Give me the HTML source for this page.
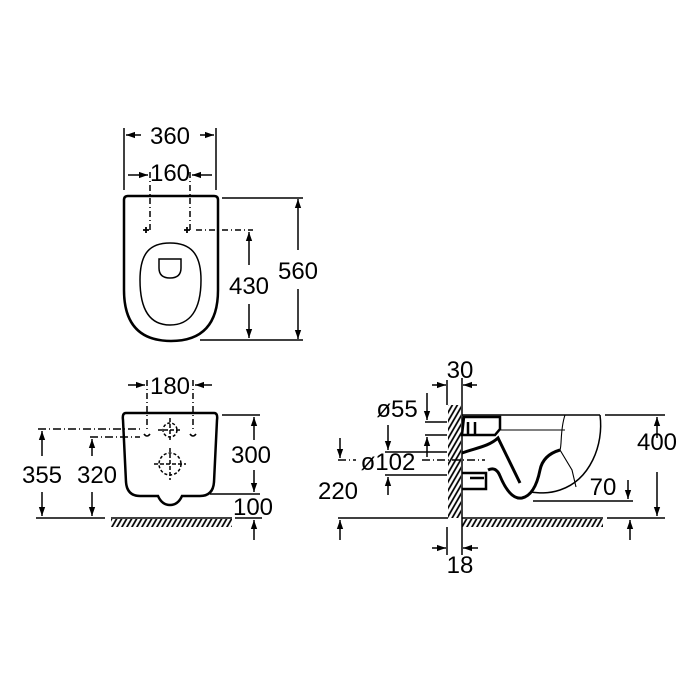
<!DOCTYPE html>
<html><head><meta charset="utf-8"><style>
html,body{margin:0;padding:0;background:#fff;}
svg{display:block;}
text{font-family:"Liberation Sans",Arial,sans-serif;fill:#000;}
</style></head><body>
<svg width="700" height="700" viewBox="0 0 700 700" xmlns="http://www.w3.org/2000/svg">
<defs>
<marker id="a" viewBox="0 0 10 10" refX="10" refY="5" markerWidth="9" markerHeight="9" orient="auto-start-reverse" markerUnits="userSpaceOnUse">
<path d="M0,1.5 L10,5 L0,8.5 z" fill="#000"/></marker>
<pattern id="h" width="5" height="10" patternUnits="userSpaceOnUse" patternTransform="skewX(-30)">
<line x1="1.2" y1="0" x2="1.2" y2="10" stroke="#000" stroke-width="2"/></pattern>
</defs>
<g stroke="#000" fill="none" stroke-width="1.5">
<!-- TOP VIEW -->
<line x1="124" y1="128" x2="124" y2="190"/><line x1="216" y1="128" x2="216" y2="190"/>
<line x1="126" y1="135" x2="141" y2="135" marker-start="url(#a)"/>
<line x1="200" y1="135" x2="214" y2="135" marker-end="url(#a)"/>
<line x1="128" y1="175" x2="148" y2="175" marker-end="url(#a)"/>
<line x1="192" y1="175" x2="212" y2="175" marker-start="url(#a)"/>
<line x1="150" y1="172" x2="150" y2="230" stroke-dasharray="6,3,1,3"/>
<line x1="190" y1="172" x2="190" y2="230" stroke-dasharray="6,3,1,3"/>
<path d="M124,200 Q124,196 128,196 L214,196 Q218,196 218,200 L218,290 Q218,341 171,341 Q124,341 124,290 Z" stroke-width="2.5"/>
<path d="M146,227 v6 M143,230 h6 M187,227 v6 M184,230 h6" stroke-width="1.8"/>
<line x1="196" y1="230" x2="253" y2="230" stroke-dasharray="6,3,1,3"/>
<path d="M170,243 C190,243 201,253 201,280 C201,310 190,325 170,325 C150,325 140,310 140,280 C140,253 150,243 170,243 Z"/>
<path d="M159,259 L181,259 L181,268 Q181,278 170,278 Q159,278 159,268 Z"/>
<line x1="249" y1="232" x2="249" y2="265" marker-start="url(#a)"/>
<line x1="249" y1="304" x2="249" y2="338" marker-end="url(#a)"/>
<line x1="222" y1="198" x2="303" y2="198"/>
<line x1="200" y1="340" x2="303" y2="340"/>
<line x1="298" y1="199" x2="298" y2="250" marker-start="url(#a)"/>
<line x1="298" y1="289" x2="298" y2="339" marker-end="url(#a)"/>

<!-- FRONT VIEW -->
<line x1="128" y1="385" x2="145" y2="385" marker-end="url(#a)"/>
<line x1="212" y1="385" x2="195" y2="385" marker-end="url(#a)"/>
<line x1="147" y1="380" x2="147" y2="432" stroke-dasharray="6,3,1,3"/>
<line x1="193" y1="380" x2="193" y2="432" stroke-dasharray="6,3,1,3"/>
<path d="M126,413 L214,413 Q218,413 217,420 L214,482 Q213,496 200,496 L182,496 Q178,505 170,505 Q162,505 158,496 L140,496 Q127,496 126,482 L123,420 Q122,413 126,413 Z" stroke-width="2.5"/>
<path d="M144,434 q3,4 6,0 M190,434 q3,4 6,0" stroke-width="1.6"/>
<circle cx="170" cy="430" r="7" stroke-dasharray="3,2"/>
<path d="M170,418 v24 M158,430 h24" stroke-dasharray="4,2"/>
<circle cx="170" cy="464" r="11" stroke-dasharray="3,2"/>
<path d="M170,448 v32 M154,464 h32" stroke-dasharray="4,2"/>
<line x1="38" y1="429" x2="140" y2="429" stroke-dasharray="8,3,1,3"/>
<line x1="90" y1="437" x2="140" y2="437" stroke-dasharray="8,3,1,3"/>
<line x1="42" y1="431" x2="42" y2="456" marker-start="url(#a)"/>
<line x1="42" y1="492" x2="42" y2="516" marker-end="url(#a)"/>
<line x1="92" y1="439" x2="92" y2="456" marker-start="url(#a)"/>
<line x1="92" y1="492" x2="92" y2="516" marker-end="url(#a)"/>
<line x1="36" y1="518" x2="105" y2="518"/>
<line x1="111" y1="518" x2="232" y2="518"/>
<rect x="111" y="519" width="121" height="8" fill="url(#h)" stroke="none"/>
<line x1="222" y1="415" x2="260" y2="415"/>
<line x1="210" y1="494" x2="260" y2="494"/>
<line x1="254" y1="417" x2="254" y2="440" marker-start="url(#a)"/>
<line x1="254" y1="470" x2="254" y2="492" marker-end="url(#a)"/>
<line x1="235" y1="518" x2="262" y2="518"/>
<line x1="254" y1="540" x2="254" y2="520" marker-end="url(#a)"/>

<!-- SIDE VIEW -->
<line x1="462" y1="378" x2="462" y2="555"/>
<line x1="447" y1="380" x2="447" y2="405"/>
<line x1="432" y1="385" x2="446" y2="385" marker-end="url(#a)"/>
<line x1="477" y1="385" x2="463" y2="385" marker-end="url(#a)"/>
<line x1="447" y1="527" x2="447" y2="555"/>
<line x1="432" y1="548" x2="446" y2="548" marker-end="url(#a)"/>
<line x1="478" y1="548" x2="463" y2="548" marker-end="url(#a)"/>
<rect x="448" y="405" width="13" height="113" fill="url(#h)" stroke="none"/>
<line x1="462" y1="518" x2="603" y2="518"/>
<rect x="462" y="519" width="141" height="8" fill="url(#h)" stroke="none"/>
<line x1="338" y1="518" x2="448" y2="518"/>
<line x1="340" y1="540" x2="340" y2="520" marker-end="url(#a)"/>
<line x1="607" y1="518" x2="665" y2="518"/>
<line x1="605" y1="415" x2="665" y2="415"/>
<line x1="657" y1="417" x2="657" y2="438" marker-start="url(#a)"/>
<line x1="657" y1="472" x2="657" y2="516" marker-end="url(#a)"/>
<line x1="630" y1="540" x2="630" y2="520" marker-end="url(#a)"/>
<line x1="533" y1="501" x2="633" y2="501"/>
<line x1="628" y1="480" x2="628" y2="499" marker-end="url(#a)"/>
<!-- phi55 -->
<line x1="427" y1="393" x2="427" y2="420" marker-end="url(#a)"/>
<line x1="425" y1="422" x2="447" y2="422"/>
<line x1="425" y1="435" x2="447" y2="435"/>
<line x1="427" y1="457" x2="427" y2="437" marker-end="url(#a)"/>
<!-- phi102 -->
<line x1="388" y1="425" x2="388" y2="450" marker-end="url(#a)"/>
<line x1="385" y1="452" x2="447" y2="452"/>
<line x1="385" y1="475" x2="447" y2="475"/>
<line x1="388" y1="495" x2="388" y2="477" marker-end="url(#a)"/>
<line x1="340" y1="438" x2="340" y2="458" marker-end="url(#a)"/>
<line x1="338" y1="460" x2="356" y2="460" stroke-dasharray="8,3,1,3"/>
<line x1="422" y1="460" x2="485" y2="460" stroke-dasharray="8,3,1,3"/>
<!-- bowl -->
<line x1="462" y1="415" x2="600" y2="415"/>
<path d="M600,415 C604,445 590,480 560,490 C548,494 538,493 530,492" />
<path d="M500,430 L565,430 M565,415 C560,430 562,445 560,450 L572,470 L576,487" stroke-width="1.1"/>
<path d="M464,417 h36 v12 l-5,6 h-33 Z M468,422 v14 M475,422 v14" stroke-width="2.5"/>
<path d="M462,453 C475,448 488,447 498,438 L520,483" stroke-width="3"/>
<path d="M462,473 h24 v16 h-24 M470,478 h14" stroke-width="2.5"/>
<path d="M488,470 Q496,466 500,476 Q510,500 522,498 Q535,495 540,470 Q543,455 560,450" stroke-width="3"/>
</g>
<g font-size="24">
<text x="170" y="144" text-anchor="middle">360</text>
<text x="170" y="181" text-anchor="middle">160</text>
<text x="249" y="294" text-anchor="middle">430</text>
<text x="298" y="279" text-anchor="middle">560</text>
<text x="170" y="394" text-anchor="middle">180</text>
<text x="42" y="483" text-anchor="middle">355</text>
<text x="97" y="483" text-anchor="middle">320</text>
<text x="251" y="463" text-anchor="middle">300</text>
<text x="253" y="515" text-anchor="middle">100</text>
<text x="460" y="378" text-anchor="middle">30</text>
<text x="397" y="417" text-anchor="middle">ø55</text>
<text x="388" y="470" text-anchor="middle">ø102</text>
<text x="338" y="499" text-anchor="middle">220</text>
<text x="603" y="495" text-anchor="middle">70</text>
<text x="657" y="450" text-anchor="middle">400</text>
<text x="460" y="573" text-anchor="middle">18</text>
</g>
</svg>
</body></html>
